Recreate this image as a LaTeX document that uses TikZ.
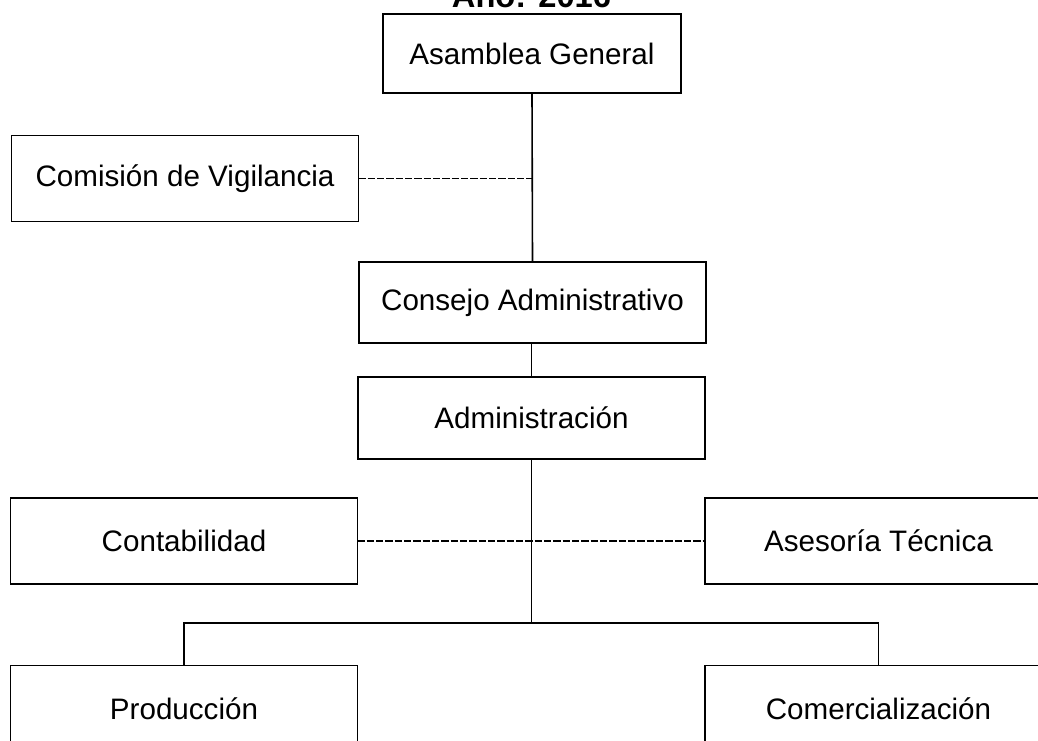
\documentclass[tikz,border=0pt]{standalone}
\usepackage{fontspec}
\setmainfont{Liberation Sans}
\usepackage{tikz}
\usetikzlibrary{calc, positioning}

\begin{document}
\begin{tikzpicture}[
  x=0.75pt, y=-0.75pt,
  box/.style={draw=black, line width=1.2pt, fill=white, inner sep=0pt, outer sep=0pt,
              minimum width=260pt, minimum height=64.5pt, align=center,
              font=\fontsize{22.2}{26}\selectfont},
  titulo/.style={font=\fontsize{24.5}{29}\selectfont\bfseries, anchor=base, inner sep=0pt},
  linea/.style={draw=black, line width=1.2pt},
  punteada/.style={draw=black, line width=0.9pt, dash pattern=on 5.5pt off 1.5pt}
]
\clip (0,0) rectangle (1038,741);

\node[titulo] (tit) at (531.5,8) {Año: 2016};

\node[box, minimum width=223.5pt, minimum height=59.25pt] (asamblea) at (532,53.5) {Asamblea General};
\node[box] (comision) at (185,178.5) {Comisión de Vigilancia};
\node[box, minimum height=60.75pt] (consejo) at (532.5,302.5) {Consejo Administrativo};
\node[box, minimum height=61.5pt] (admin) at (531.5,418) {Administración};

\node[box] (conta) at (184,541) {Contabilidad};
\node[box] (asesoria) at (878.5,541) {Asesoría Técnica};

\node[box] (produ) at (184,708.5) {Producción};
\node[box] (comer) at (878.5,708.5) {Comercialización};

% linea de mando
\draw[linea] (asamblea.south) -- (consejo.north);
\draw[linea] (consejo.south) -- (admin.south |- consejo.south) -- (admin.north);
\coordinate (v1) at (asamblea.south |- comision.east);
\draw[punteada] (comision.east) -- (v1);

% staff de la administracion
\draw[punteada] (conta.east) -- (asesoria.west);

% areas operativas
\coordinate (bus) at (531.5,623);
\draw[linea] (admin.south) -- (bus);
\draw[linea] (produ.north) |- (bus) -| (comer.north);
\end{tikzpicture}
\end{document}
